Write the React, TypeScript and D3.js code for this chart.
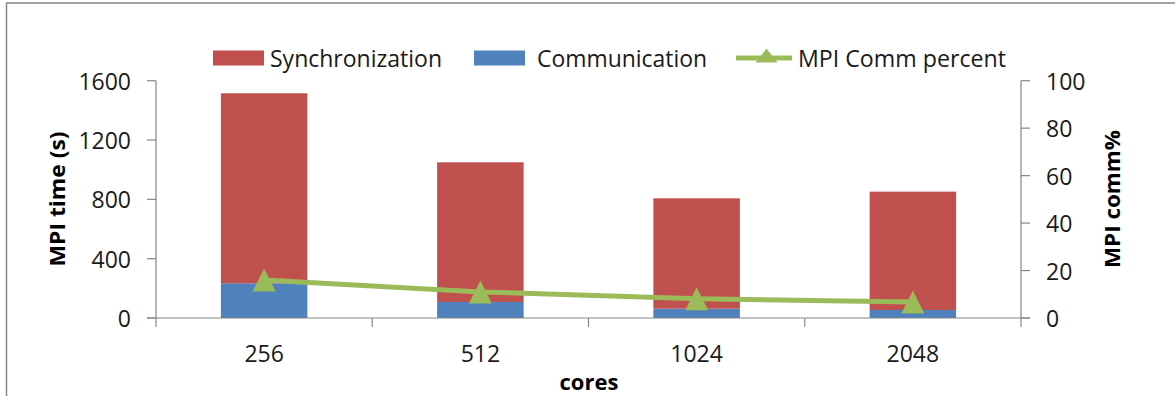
import React from "react";
import * as d3 from "d3";

// Core counts on the category axis
const cores = ["256", "512", "1024", "2048"];
// MPI time split (seconds)
const communication = [234, 108, 63, 54];
const synchronization = [1281, 942, 744, 798];
// Share of run time spent in MPI communication (%)
const commPercent = [16, 11, 8.1, 6.7];
// Axis tick labels
const leftTicks = [0, 400, 800, 1200, 1600];
const rightTicks = [0, 20, 40, 60, 80, 100];

const W = 1175;
const H = 396;
const FONT = "'Open Sans', 'Noto Sans', sans-serif";
const RED = "#C0504D";
const BLUE = "#4F81BD";
const GREEN = "#9BBB59";
const AXIS = "#868686";
const TEXT = "#1a1a1a";

export default function App() {
  const plotLeft = 156;
  const plotRight = 1021;
  const plotTop = 80.7;
  const plotBottom = 318;

  const x = d3.scaleBand<string>().domain(cores).range([plotLeft, plotRight]).padding(0);
  const yL = d3.scaleLinear().domain([0, 1600]).range([plotBottom, plotTop]);
  const yR = d3.scaleLinear().domain([0, 100]).range([plotBottom, plotTop]);
  const barW = x.bandwidth() * 0.4;
  const cx = (c: string) => (x(c) as number) + x.bandwidth() / 2;

  const stacked = cores.map((c, i) => ({
    c,
    comm: communication[i],
    sync: synchronization[i],
  }));

  const line = d3
    .line<number>()
    .x((_, i) => cx(cores[i]))
    .y((v) => yR(v));

  const tri = (px: number, py: number, w: number, h: number) =>
    `M${px},${py - h / 2}L${px + w / 2},${py + h / 2}L${px - w / 2},${py + h / 2}Z`;

  const boundaries = [...cores.map((c) => x(c) as number), plotRight];

  return (
    <svg
      width={W}
      height={H}
      style={{ position: "absolute", left: 0, top: 0, background: "#fff" }}
      fontFamily={FONT}
    >
      {/* chart frame */}
      <rect x={6.5} y={3} width={W + 10} height={H + 10} fill="#fff" stroke={AXIS} strokeWidth={1.5} />

      {/* legend */}
      <g fontSize={23} fill={TEXT}>
        <rect x={213} y={50.5} width={51} height={15} fill={RED} />
        <text x={270} y={58} dominantBaseline="central" textLength={172} lengthAdjust="spacingAndGlyphs">Synchronization</text>
        <rect x={474} y={50.5} width={51} height={15} fill={BLUE} />
        <text x={537} y={58} dominantBaseline="central" textLength={170} lengthAdjust="spacingAndGlyphs">Communication</text>
        <line x1={736} x2={792} y1={58} y2={58} stroke={GREEN} strokeWidth={5} />
        <path d={tri(766.5, 55.5, 22, 14)} fill={GREEN} />
        <text x={798} y={58} dominantBaseline="central" textLength={208} lengthAdjust="spacingAndGlyphs">MPI Comm percent</text>
      </g>

      {/* bars */}
      {stacked.map((d) => (
        <g key={d.c}>
          <rect
            x={cx(d.c) - barW / 2}
            y={yL(d.comm)}
            width={barW}
            height={yL(0) - yL(d.comm)}
            fill={BLUE}
          />
          <rect
            x={cx(d.c) - barW / 2}
            y={yL(d.comm + d.sync)}
            width={barW}
            height={yL(d.comm) - yL(d.comm + d.sync)}
            fill={RED}
          />
        </g>
      ))}

      {/* axes */}
      <g stroke={AXIS} strokeWidth={1.2} fill="none">
        <line x1={plotLeft} x2={plotLeft} y1={plotTop} y2={plotBottom} />
        <line x1={plotRight} x2={plotRight} y1={plotTop} y2={plotBottom} />
        <line x1={plotLeft - 9} x2={plotRight + 9} y1={plotBottom} y2={plotBottom} />
        {leftTicks.map((t) => (
          <line key={t} x1={plotLeft - 9} x2={plotLeft} y1={yL(t)} y2={yL(t)} />
        ))}
        {rightTicks.map((t) => (
          <line key={t} x1={plotRight} x2={plotRight + 9} y1={yR(t)} y2={yR(t)} />
        ))}
        {boundaries.map((b, i) => (
          <line key={i} x1={b} x2={b} y1={plotBottom} y2={plotBottom + 9} />
        ))}
      </g>

      {/* percent line */}
      <path d={line(commPercent) || ""} fill="none" stroke={GREEN} strokeWidth={5} />
      {commPercent.map((v, i) => (
        <path key={i} d={tri(cx(cores[i]), yR(v), 23, 23)} fill={GREEN} />
      ))}

      {/* tick labels */}
      <g fontSize={23} fill={TEXT}>
        {leftTicks.map((t) => (
          <text key={t} x={131} y={yL(t)} textAnchor="end" dominantBaseline="central">
            {t}
          </text>
        ))}
        {rightTicks.map((t) => (
          <text key={t} x={1046} y={yR(t)} dominantBaseline="central">
            {t}
          </text>
        ))}
        {cores.map((c) => (
          <text key={c} x={cx(c)} y={353} textAnchor="middle" dominantBaseline="central">
            {c}
          </text>
        ))}
      </g>

      {/* axis titles */}
      <g fontSize={22} fontWeight="bold" fill="#000" textAnchor="middle">
        <text transform={`translate(56,199) rotate(-90)`} dominantBaseline="central" textLength={135} lengthAdjust="spacingAndGlyphs">
          MPI time (s)
        </text>
        <text transform={`translate(1111,199) rotate(-90)`} dominantBaseline="central" textLength={138} lengthAdjust="spacingAndGlyphs">
          MPI comm%
        </text>
        <text x={589} y={381} dominantBaseline="central">cores</text>
      </g>
    </svg>
  );
}
